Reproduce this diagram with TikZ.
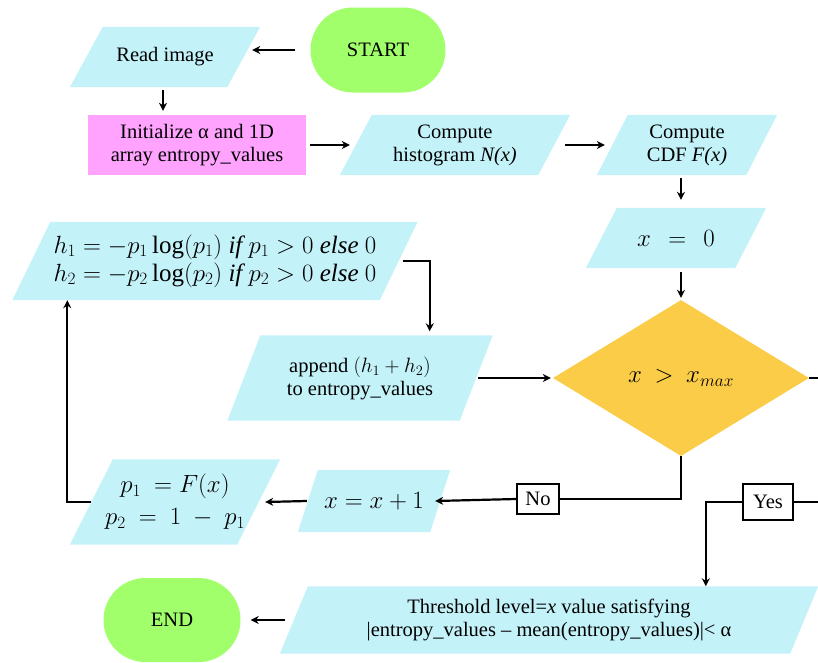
\documentclass[tikz,border=0pt]{standalone}
\usepackage{fontspec}
\setmainfont{Liberation Serif}
\usetikzlibrary{shapes.geometric,shapes.misc,arrows.meta,backgrounds,calc}
\definecolor{cyanfill}{RGB}{196,242,249}
\definecolor{pinkfill}{RGB}{255,163,255}
\definecolor{greenfill}{RGB}{160,255,106}
\definecolor{yellowfill}{RGB}{250,204,72}
\newcommand\parafill[2]{%
  \begin{pgfonlayer}{background}
  \fill[cyanfill] ([xshift=#2]#1.north west) -- (#1.north east) -- ([xshift=-#2]#1.south east) -- (#1.south west) -- cycle;
  \end{pgfonlayer}}
\tikzset{
  box/.style={rectangle, inner sep=0pt, align=center, font=\fontsize{20.5}{24}\selectfont},
  mbox/.style={rectangle, inner sep=0pt, align=center, font=\fontsize{25}{28}\selectfont},
  term/.style={rounded rectangle, fill=greenfill, inner sep=0pt, font=\fontsize{20.5}{24}\selectfont},
  lab/.style={rectangle, draw=black, line width=2pt, inner sep=0pt, font=\fontsize{20.5}{24}\selectfont},
  arr/.style={line width=2.2pt, -{Stealth[length=8pt,width=8pt]}},
  ln/.style={line width=2.2pt},
}
\begin{document}
\begin{tikzpicture}[x=1pt,y=-1pt]
\useasboundingbox (0,0) rectangle (818,662);
% nodes
\node[term, minimum width=135pt, minimum height=85pt] (start) at (378,50) {START};
\node[box, minimum width=190pt, minimum height=60pt] (read) at (165,57) {Read image};
\node[box, fill=pinkfill, minimum width=218pt, minimum height=60pt] (init) at (197,145) {Initialize α and 1D\\[-1pt]array entropy\_values};
\node[box, minimum width=230pt, minimum height=60pt] (hist) at (455,145) {Compute\\[-1pt]histogram \textit{N(x)}};
\node[box, minimum width=180pt, minimum height=60pt] (cdf) at (687,145) {Compute\\[-1pt]CDF \textit{F(x)}};
\node[mbox, minimum width=180pt, minimum height=60pt] (x0) at (676,238) {$x\ \,=\ \,0$};
\node[diamond, fill=yellowfill, minimum width=256pt, minimum height=156pt, inner sep=0pt, font=\fontsize{23}{26}\selectfont] (dia) at (681,378) {$x\ >\ x_{max}$};
\node[box, minimum width=265pt, minimum height=85pt] (append) at (360,378) {append $(h_1+h_2)$\\[-1pt]to entropy\_values};
\node[mbox, minimum width=405pt, minimum height=78pt] (h) at (215,261) {$h_1 = -p_1\log(p_1)\ \mathit{if}\ p_1 > 0\ \mathit{else}\ 0$\\$h_2 = -p_2\log(p_2)\ \mathit{if}\ p_2 > 0\ \mathit{else}\ 0$};
\node[mbox, minimum width=210pt, minimum height=85pt] (p) at (175,502) {$p_1\ = F(x)$\\[4pt]$p_2\ =\ 1\ -\ p_1$};
\node[mbox, minimum width=152pt, minimum height=62pt] (xinc) at (374,501) {$x = x + 1$};
\node[box, minimum width=538pt, minimum height=67pt] (thr) at (549,620) {Threshold level=\textit{x} value satisfying\\[-1pt]|entropy\_values – mean(entropy\_values)|< α};
\node[term, minimum width=137pt, minimum height=84pt] (end) at (172,620) {END};
\node[lab, minimum width=42pt, minimum height=30pt] (no) at (538,499) {No};
\node[lab, minimum width=50pt, minimum height=36pt] (yes) at (768,502) {Yes};
\coordinate (r1) at (818,378);
\coordinate (r2) at (818,502);
% parallelogram fills
\parafill{read}{33pt}
\parafill{hist}{32pt}
\parafill{cdf}{31pt}
\parafill{x0}{31pt}
\parafill{append}{33pt}
\parafill{h}{38pt}
\parafill{p}{43pt}
\parafill{xinc}{20pt}
\parafill{thr}{28pt}
% connectors
\draw[arr] ([xshift=-15pt]start.west) -- ([xshift=-8pt]read.east |- start.west);
\draw[arr] ($(read.south)+(-2pt,-3pt)$) -- ($(init.north -| read.south)+(-2pt,4pt)$);
\draw[arr] ([xshift=4pt]init.east) -- ([xshift=10pt]hist.west);
\draw[arr] ([xshift=-5pt]hist.east) -- ([xshift=8pt]cdf.west);
\draw[arr] ($(cdf.south -| dia.north)+(0,-3pt)$) -- ($(x0.north -| dia.north)+(0,8pt)$);
\draw[arr] ($(x0.south -| dia.north)+(0,-4pt)$) -- ($(dia.north)+(0,2pt)$);
\draw[arr] ([xshift=-15pt]append.east) -- ([xshift=-2pt]dia.west);
\draw[ln] (dia.east) -- (r1);
\draw[ln] (dia.south) |- (no.east);
\draw[arr] (no.west) -- ([xshift=-15pt]xinc.east);
\draw[arr] ([xshift=9pt]xinc.west) -- ([xshift=-15pt]p.east);
\draw[arr] ([xshift=21pt]p.west) -| ([xshift=55pt]h.south west);
\draw[arr] ([xshift=-15pt]h.east) -| ([xshift=-63pt,yshift=4pt]append.north east);
\draw[ln] (yes.east) -- (r2);
\draw[arr] (yes.west) -| ([xshift=426pt]thr.north west);
\draw[arr] ([xshift=5pt]thr.west) -- ([xshift=10pt]end.east);
\end{tikzpicture}
\end{document}
